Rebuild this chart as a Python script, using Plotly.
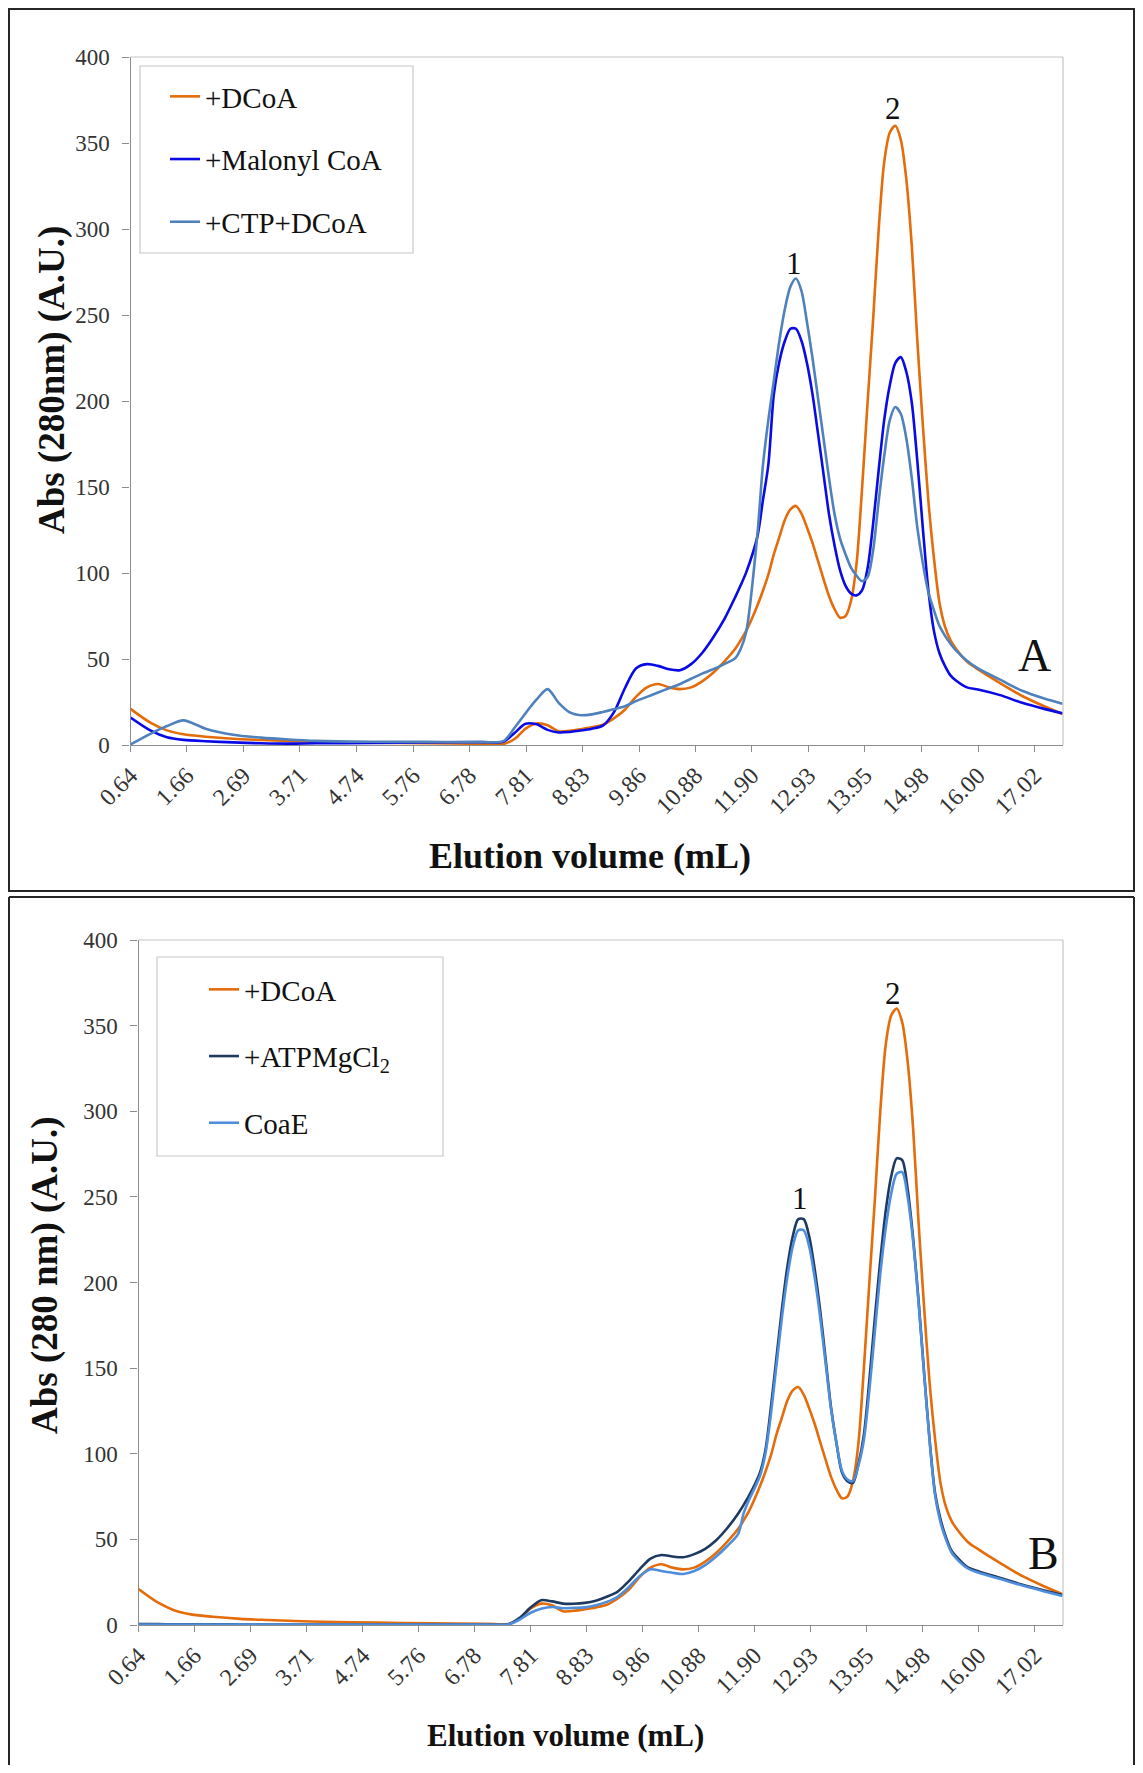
import plotly.graph_objects as go

# ---------------- data ----------------
ELUTION_ML = [0.64, 1.0, 1.3, 1.6, 2.0, 2.5, 3.0, 3.5, 4.0, 5.0,
              6.0, 7.0, 7.4, 7.6, 7.8, 8.0, 8.2, 8.4, 8.6, 8.8,
              9.0, 9.2, 9.4, 9.6, 9.8, 10.0, 10.2, 10.4, 10.6, 10.8,
              11.0, 11.2, 11.4, 11.6, 11.7, 11.8, 12.0, 12.1, 12.2, 12.3,
              12.4, 12.5, 12.6, 12.7, 12.8, 12.9, 13.0, 13.1, 13.2, 13.3,
              13.4, 13.5, 13.6, 13.7, 13.8, 13.9, 14.0, 14.1, 14.2, 14.3,
              14.4, 14.5, 14.6, 14.7, 14.8, 14.9, 15.0, 15.1, 15.2, 15.3,
              15.4, 15.5, 15.6, 15.8, 16.0, 16.4, 16.8, 17.2, 17.53]

DCOA = [21, 13, 8.5, 6.2, 4.8, 3.6, 2.9, 2.3, 1.9, 1.4,
        1.0, 0.7, 0.6, 3.5, 9.5, 12.5, 11.5, 8, 8.3, 9.2,
        10.3, 11.8, 15.5, 20.5, 28, 33.5, 35.5, 33.5, 32.5, 33.5,
        37, 42, 48.5, 56, 61, 66.5, 81, 89.5, 99, 111,
        121, 131, 137, 139, 134.5, 126.5, 117.5, 107, 96.5, 86.5,
        79, 74, 75, 84, 106, 150, 200, 248, 300, 339,
        356, 360, 352, 329, 290, 235, 186, 142, 109, 83,
        69, 61, 56, 48.5, 44, 36, 28.5, 22.5, 18]

MALONYL = [16, 8.5, 4.5, 3, 2.2, 1.5, 1.0, 0.8, 1.0, 1.2,
           1.5, 1.7, 1.9, 7, 12.3, 12, 8.8, 7.3, 7.6, 8.4,
           9.5, 11.3, 19, 33, 44.5, 47, 46, 44, 43.5, 47,
           53.5, 62.5, 73, 86, 93, 100.5, 121, 142, 163, 204,
           223, 235, 242, 242, 235, 222, 204, 181, 157.5, 134,
           116, 101.5, 92.5, 88, 87, 90, 103, 129, 160, 189,
           209, 222, 225.5, 217, 199, 165, 126, 90, 66.5, 53.5,
           46, 40.5, 37.5, 33.5, 32.3, 29, 24.5, 21, 18.5]

CTP_DCOA = [0.3, 6.5, 11, 14.3, 9.5, 6, 4.3, 3.2, 2.4, 1.9,
            1.8, 1.7, 2.3, 10, 18.5, 26.5, 32.5, 24.5, 19, 17.3,
            17.8, 19.2, 20.8, 22.5, 25.5, 28, 30.5, 33, 35.5, 38.5,
            41.5, 44, 47, 50.5, 56, 66, 122, 162, 189, 212,
            235, 253.6, 266.5, 271.2, 264, 245.8, 225, 201.7, 178.3, 155,
            134.2, 120, 110.8, 103, 98.4, 95.2, 97.8, 113.4, 142, 168,
            188.7, 196.5, 192.6, 178.3, 155, 126.4, 105.6, 88.8, 78.4, 69.3,
            63.6, 58.9, 55, 49, 44.5, 38, 31.5, 27, 24]

ATPMGCL2 = [0.5, 0.5, 0.4, 0.4, 0.4, 0.3, 0.3, 0.3, 0.3, 0.3,
            0.3, 0.3, 0.4, 4, 10, 14.5, 13.8, 12.5, 12.4, 12.9,
            14.2, 16.5, 19.5, 25.5, 32.5, 38.8, 40.9, 40, 39.6, 41.4,
            44.5, 49.5, 56.5, 65, 70, 75.5, 89, 102, 127, 155.6,
            184, 209, 227, 237, 237, 227, 208, 184, 155.6, 127,
            106, 89, 84, 83, 94, 111, 143, 179, 213, 242,
            262, 272.5, 271.5, 254.6, 226, 189.4, 147.8, 108.7, 77.4, 61.8,
            51.3, 43.5, 39.6, 33.6, 31.3, 27.4, 23.5, 20.1, 17.5]

COAE = [0.3, 0.3, 0.3, 0.3, 0.3, 0.3, 0.3, 0.3, 0.3, 0.3,
        0.3, 0.3, 0.3, 3, 7, 9.5, 10.5, 9.8, 10, 10.3,
        11.5, 13.5, 16.5, 22, 28.5, 32.5, 31.5, 30.5, 29.8, 31.5,
        35, 40, 46, 53, 65, 73, 87, 100, 123, 151,
        179, 203, 221, 230.5, 230.5, 221, 203, 180, 153, 126,
        106, 90, 85, 84, 93, 108, 137, 171, 205, 232,
        252, 263.5, 264.5, 250, 224, 188, 147, 108, 76, 60,
        50, 42.5, 38.5, 33, 30.5, 26.8, 23, 19.6, 17]

TICK_VALUES = [0.64, 1.66, 2.69, 3.71, 4.74, 5.76, 6.78, 7.81, 8.83, 9.86,
               10.88, 11.90, 12.93, 13.95, 14.98, 16.00, 17.02]
TICK_LABELS = ["0.64", "1.66", "2.69", "3.71", "4.74", "5.76", "6.78", "7.81", "8.83", "9.86",
               "10.88", "11.90", "12.93", "13.95", "14.98", "16.00", "17.02"]

# ---------------- figure ----------------
# the page body adds an 8 px margin, so the figure is 16 px smaller than the window
OFF = 8
W, H = 1143 - 2 * OFF, 1773 - 2 * OFF
SERIF = "Liberation Serif"
ORANGE = "#E46C0A"
BLUE = "#0A0AE6"
STEEL = "#4F81BD"
NAVY = "#1F3A60"
LIGHT = "#4F8EDC"


def px(x):
    return (x - OFF) / W


def py(y):
    return 1 - (y - OFF) / H


fig = go.Figure()

top_series = [("+DCoA", DCOA, ORANGE), ("+Malonyl CoA", MALONYL, BLUE), ("+CTP+DCoA", CTP_DCOA, STEEL)]
for i, (name, vals, col) in enumerate(top_series):
    fig.add_trace(go.Scatter(x=ELUTION_ML, y=vals, name=name, mode="lines",
                             line=dict(color=col, width=2.6, shape="spline", smoothing=0.8),
                             xaxis="x", yaxis="y", legend="legend", legendgroup=f"a{i}"))

bot_series = [("+DCoA", DCOA, ORANGE), ("+ATPMgCl<sub>2</sub>", ATPMGCL2, NAVY), ("CoaE", COAE, LIGHT)]
for i, (name, vals, col) in enumerate(bot_series):
    fig.add_trace(go.Scatter(x=ELUTION_ML, y=vals, name=name, mode="lines",
                             line=dict(color=col, width=2.6, shape="spline", smoothing=0.8),
                             xaxis="x2", yaxis="y2", legend="legend2", legendgroup=f"b{i}"))

ytickfont = dict(family=SERIF, size=23, color="#333333")
xtickfont = dict(family=SERIF, size=24, color="#333333")
xcommon = dict(range=[0.64, 17.54], tickmode="array", tickvals=TICK_VALUES, ticktext=TICK_LABELS,
               tickangle=-45, tickfont=xtickfont, showgrid=False, zeroline=False, automargin=False,
               showline=True, linecolor="#8C8C8C", linewidth=1.2,
               ticks="outside", ticklen=6, tickcolor="#8C8C8C")
ycommon = dict(range=[0, 400], tickmode="linear", tick0=0, dtick=50, tickfont=ytickfont, automargin=False,
               showgrid=False, zeroline=False, showline=True, linecolor="#8C8C8C", linewidth=1.2,
               ticks="outside", ticklen=7, tickcolor="#8C8C8C", ticklabelstandoff=8)

fig.update_layout(
    template="none",
    width=W, height=H, margin=dict(l=0, r=0, t=0, b=0, pad=0, autoexpand=False),
    paper_bgcolor="white", plot_bgcolor="white",
    xaxis=dict(domain=[px(130.5), px(1063)], anchor="y", **xcommon),
    yaxis=dict(domain=[py(745), py(57)], anchor="x", **ycommon),
    xaxis2=dict(domain=[px(138.5), px(1063)], anchor="y2", **xcommon),
    yaxis2=dict(domain=[py(1625), py(940)], anchor="x2", **ycommon),
    legend=dict(x=px(165), y=py(71), xanchor="left", yanchor="top", bgcolor="rgba(0,0,0,0)",
                borderwidth=0, font=dict(family=SERIF, size=29, color="#111"), tracegroupgap=22),
    legend2=dict(x=px(204), y=py(964), xanchor="left", yanchor="top", bgcolor="rgba(0,0,0,0)",
                 borderwidth=0, font=dict(family=SERIF, size=29, color="#111"), tracegroupgap=26),
    showlegend=True,
)

shapes = []
frame = dict(color="#262626", width=2)
xl, xr_ = px(OFF + 1), px(OFF + W - 1)
# top panel frame
shapes.append(dict(type="rect", xref="paper", yref="paper", x0=xl, x1=xr_,
                   y0=py(891), y1=py(OFF + 1), line=frame))
# bottom panel frame (open at the bottom edge)
shapes.append(dict(type="line", xref="paper", yref="paper", x0=xl, x1=xr_, y0=py(897), y1=py(897), line=frame))
shapes.append(dict(type="line", xref="paper", yref="paper", x0=xl, x1=xl, y0=0, y1=py(897), line=frame))
shapes.append(dict(type="line", xref="paper", yref="paper", x0=xr_, x1=xr_, y0=0, y1=py(897), line=frame))
# plot-area top/right border
for xr, yr in (("x", "y"), ("x2", "y2")):
    shapes.append(dict(type="line", xref=f"{xr} domain", yref=f"{yr} domain", x0=0, x1=1, y0=1, y1=1,
                       line=dict(color="#C4C4C4", width=1.2)))
    shapes.append(dict(type="line", xref=f"{xr} domain", yref=f"{yr} domain", x0=1, x1=1, y0=0, y1=1,
                       line=dict(color="#C4C4C4", width=1.2)))
# legend boxes
shapes.append(dict(type="rect", xref="paper", yref="paper", x0=px(140), x1=px(413), y0=py(253), y1=py(66),
                   line=dict(color="#C8C8C8", width=1.2)))
shapes.append(dict(type="rect", xref="paper", yref="paper", x0=px(157), x1=px(443), y0=py(1156), y1=py(957),
                   line=dict(color="#C8C8C8", width=1.2)))
fig.update_layout(shapes=shapes)

ann = []
lab = dict(family=SERIF, size=31, color="#111")
ann.append(dict(x=12.66, y=280, xref="x", yref="y", text="1", showarrow=False, font=lab, yanchor="middle"))
ann.append(dict(x=14.45, y=370, xref="x", yref="y", text="2", showarrow=False, font=lab, yanchor="middle"))
ann.append(dict(x=17.03, y=52, xref="x", yref="y", text="A", showarrow=False,
                font=dict(family=SERIF, size=46, color="#111"), yanchor="middle"))
ann.append(dict(x=12.73, y=249, xref="x2", yref="y2", text="1", showarrow=False, font=lab, yanchor="middle"))
ann.append(dict(x=14.44, y=369, xref="x2", yref="y2", text="2", showarrow=False, font=lab, yanchor="middle"))
ann.append(dict(x=17.18, y=42, xref="x2", yref="y2", text="B", showarrow=False,
                font=dict(family=SERIF, size=46, color="#111"), yanchor="middle"))
# axis titles
ann.append(dict(x=px(590), y=py(856), xref="paper", yref="paper", text="<b>Elution volume (mL)</b>",
                showarrow=False, font=dict(family=SERIF, size=36, color="#111"), xanchor="center", yanchor="middle"))
ann.append(dict(x=px(565), y=py(1735), xref="paper", yref="paper", text="<b>Elution volume (mL)</b>",
                showarrow=False, font=dict(family=SERIF, size=31, color="#111"), xanchor="center", yanchor="middle"))
ann.append(dict(x=px(52), y=py(380), xref="paper", yref="paper", text="<b>Abs (280nm) (A.U.)</b>", textangle=-90,
                showarrow=False, font=dict(family=SERIF, size=37, color="#111"), xanchor="center", yanchor="middle"))
ann.append(dict(x=px(45), y=py(1275), xref="paper", yref="paper", text="<b>Abs (280 nm) (A.U.)</b>", textangle=-90,
                showarrow=False, font=dict(family=SERIF, size=37, color="#111"), xanchor="center", yanchor="middle"))
fig.update_layout(annotations=ann)

fig.write_html("out.html")
